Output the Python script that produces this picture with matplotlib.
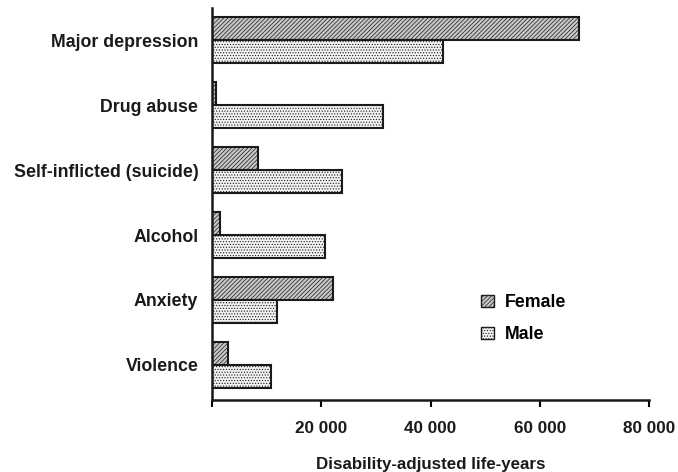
import numpy as np
import matplotlib
matplotlib.use("Agg")
import matplotlib.pyplot as plt
from matplotlib.patches import Patch

plt.rcParams['font.family'] = ['Liberation Sans', 'DejaVu Sans']
plt.rcParams['font.weight'] = 'bold'
plt.rcParams['hatch.linewidth'] = 0.5

categories = ["Major depression", "Drug abuse", "Self-inflicted (suicide)",
              "Alcohol", "Anxiety", "Violence"]
female = [67200, 700, 8400, 1500, 22100, 2900]
male = [42300, 31300, 23800, 20700, 11900, 10800]
xticks = [0, 20000, 40000, 60000, 80000]
xtick_labels = ["", "20 000", "40 000", "60 000", "80 000"]

fig = plt.figure(figsize=(6.78, 4.72), dpi=100)
ax = fig.add_axes([0.313, 0.153, 0.644, 0.830])

y = np.arange(len(categories))[::-1]
h = 0.355

plt.rcParams['hatch.color'] = '#666666'
ax.barh(y + h / 2, female, height=h, color='#c8c8c8', edgecolor='#1a1a1a',
        linewidth=1.5, hatch='////////')
ax.barh(y - h / 2, male, height=h, color='#f2f2f2', edgecolor='#1a1a1a',
        linewidth=1.5, hatch='......')

ax.set_xlim(0, 80000)
ax.set_ylim(-0.54, 5.5)
ax.set_yticks(y)
ax.set_yticklabels(categories, fontsize=12.8, fontweight='bold', color='#1a1a1a')
ax.tick_params(axis='y', length=0, pad=10)
ax.set_xticks(xticks)
ax.set_xticklabels(xtick_labels, fontsize=12.3, fontweight='bold', color='#1a1a1a')
ax.tick_params(axis='x', direction='out', length=5, width=1.5, pad=10)

for s in ['top', 'right']:
    ax.spines[s].set_visible(False)
for s in ['left', 'bottom']:
    ax.spines[s].set_linewidth(1.8)
    ax.spines[s].set_color('#1a1a1a')

ax.set_xlabel("Disability-adjusted life-years", fontsize=12.2,
              fontweight='bold', color='#1a1a1a', va='center')
ax.xaxis.set_label_coords(0.5, -0.166)

handles = [Patch(facecolor='#c8c8c8', edgecolor='#1a1a1a', hatch='////////', label='Female'),
           Patch(facecolor='#f2f2f2', edgecolor='#1a1a1a', hatch='......', label='Male')]
ax.legend(handles=handles, loc='upper left', bbox_to_anchor=(0.58, 0.31),
          frameon=False, fontsize=12.8, handlelength=0.7, handleheight=0.7,
          labelspacing=0.85, handletextpad=0.6)

fig.savefig("out.png", dpi=100)
